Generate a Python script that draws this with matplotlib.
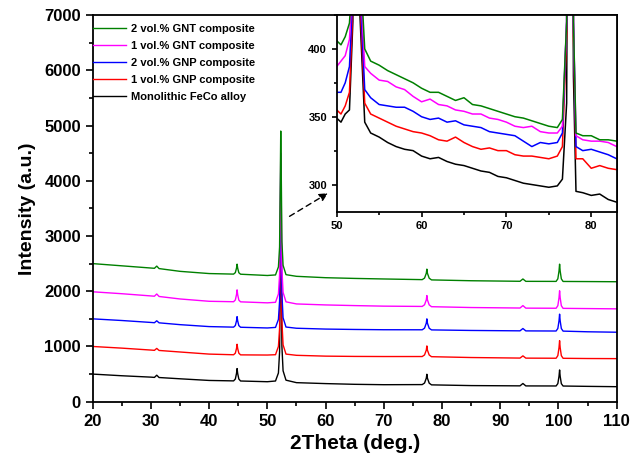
import matplotlib
matplotlib.use('Agg')
import matplotlib.pyplot as plt
from matplotlib.ticker import MultipleLocator

plt.rcParams['font.family'] = ['Liberation Sans', 'DejaVu Sans']
plt.rcParams['font.weight'] = 'bold'

LABELS = ['Monolithic FeCo alloy', '1 vol.% GNP composite', '2 vol.% GNP composite',
          '1 vol.% GNT composite', '2 vol.% GNT composite']
COLORS = ['black', '#ff0000', '#0000ff', '#ff00ff', '#008000']

# main pattern, stacked curves
two_theta = [20, 25, 30, 30.6, 31.0, 31.4, 35, 40,
             44.2, 44.5, 44.7, 44.8, 44.9, 45.1, 45.4, 50,
             51.4, 51.9, 52.1, 52.2, 52.3, 52.4, 52.5, 52.7, 53.2,
             55, 60, 65, 70,
             76.6, 77.0, 77.3, 77.4, 77.5, 77.8, 78.2, 85,
             93.4, 93.9, 94.4,
             99.6, 99.9, 100.1, 100.2, 100.3, 100.5, 100.8, 105, 110]
feco = [500, 470, 445, 440, 480, 438, 415, 385,
        377, 411, 512, 600, 512, 411, 375, 362,
        375, 520, 900, 2100, 3700, 2300, 1000, 560, 390,
        345, 328, 315, 308,
        310, 338, 425, 497, 425, 336, 305, 292,
        287, 330, 286,
        285, 328, 460, 575, 460, 327, 284, 278, 272]
gnp1 = [1000, 970, 935, 930, 965, 928, 900, 862,
        850, 879, 964, 1040, 964, 879, 848, 845,
        851, 1000, 1330, 2400, 4100, 2600, 1450, 1030, 862,
        840, 825, 820, 818,
        818, 847, 933, 1010, 933, 846, 815, 800,
        790, 830, 789,
        787, 835, 978, 1105, 978, 834, 786, 782, 780]
gnp2 = [1500, 1470, 1435, 1430, 1465, 1428, 1395, 1360,
        1350, 1379, 1464, 1540, 1464, 1378, 1348, 1335,
        1345, 1490, 1820, 2850, 4300, 3050, 1950, 1520, 1352,
        1330, 1315, 1308, 1303,
        1302, 1332, 1421, 1500, 1421, 1330, 1300, 1290,
        1283, 1325, 1282,
        1280, 1326, 1463, 1585, 1463, 1325, 1278, 1266, 1258]
gnt1 = [1990, 1955, 1915, 1910, 1950, 1905, 1860, 1818,
        1810, 1842, 1939, 2025, 1939, 1840, 1808, 1790,
        1800, 1950, 2300, 3300, 4500, 3500, 2400, 1980, 1808,
        1770, 1752, 1740, 1730,
        1725, 1755, 1843, 1922, 1843, 1753, 1720, 1705,
        1696, 1740, 1694,
        1692, 1739, 1882, 2008, 1882, 1738, 1690, 1686, 1681]
gnt2 = [2500, 2460, 2420, 2415, 2455, 2410, 2360, 2320,
        2310, 2337, 2418, 2490, 2418, 2335, 2308, 2285,
        2295, 2440, 2800, 3800, 4900, 4000, 2900, 2470, 2300,
        2270, 2245, 2232, 2222,
        2210, 2238, 2324, 2400, 2324, 2236, 2205, 2190,
        2180, 2222, 2179,
        2178, 2225, 2365, 2490, 2365, 2224, 2177, 2175, 2172]

# inset, raw intensities 50-83 deg
two_theta_zoom = [50, 50.5, 51, 51.5, 51.9, 52.3, 52.7, 53.3, 54, 55, 56, 57, 58, 59, 60,
                  61, 62, 63, 64, 65, 66, 67, 68, 69, 70, 71, 72, 73, 74, 75, 76,
                  76.6, 77.1, 77.5, 77.9, 78.2, 79, 80, 81, 82, 83]
feco_zoom = [349, 346, 352, 355, 420, 1000, 430, 346, 338, 335, 331, 328, 326, 325, 321,
             319, 320, 317, 315, 314, 312, 310, 309, 306, 305, 303, 301, 300, 299, 298, 299,
             304, 360, 1000, 380, 295, 294, 292, 293, 289, 287]
gnp1_zoom = [355, 352, 358, 368, 430, 1000, 440, 360, 352, 349, 346, 343, 341, 339, 338,
             336, 333, 332, 335, 331, 328, 326, 327, 325, 325, 322, 321, 321, 320, 319, 321,
             328, 410, 1000, 410, 319, 319, 312, 314, 312, 311]
gnp2_zoom = [368, 368, 375, 387, 440, 1000, 450, 370, 364, 359, 358, 357, 357, 354, 350,
             348, 349, 346, 347, 344, 343, 342, 339, 338, 337, 336, 332, 328, 331, 330, 331,
             338, 420, 1000, 420, 328, 325, 326, 324, 322, 319]
gnt1_zoom = [387, 391, 395, 407, 450, 1000, 460, 387, 382, 377, 376, 372, 370, 365, 361,
             363, 359, 358, 355, 354, 352, 352, 349, 348, 346, 343, 342, 343, 339, 338, 338,
             343, 420, 1000, 420, 336, 333, 332, 332, 331, 328]
gnt2_zoom = [406, 403, 409, 419, 460, 1000, 470, 400, 391, 388, 384, 381, 378, 375, 371,
             368, 368, 365, 362, 364, 359, 358, 356, 354, 352, 350, 349, 347, 345, 343, 342,
             348, 420, 1000, 420, 338, 336, 336, 333, 333, 332]

main_series = [feco, gnp1, gnp2, gnt1, gnt2]
zoom_series = [feco_zoom, gnp1_zoom, gnp2_zoom, gnt1_zoom, gnt2_zoom]


def style_axes(ax, size, major_len, minor_len):
    for s in ax.spines.values():
        s.set_linewidth(1.3)
    ax.tick_params(which='both', direction='out', top=False, right=False,
                   width=1.2, labelsize=size)
    ax.tick_params(which='major', length=major_len)
    ax.tick_params(which='minor', length=minor_len)
    for lab in ax.get_xticklabels() + ax.get_yticklabels():
        lab.set_fontweight('bold')


fig = plt.figure(figsize=(6.32, 4.61), dpi=100)
ax = fig.add_axes([0.1467, 0.1286, 0.829, 0.8388])

lines = []
for y, c, lab in zip(main_series, COLORS, LABELS):
    ln, = ax.plot(two_theta, y, color=c, lw=1.0, label=lab)
    lines.append(ln)

ax.set_xlim(20, 110)
ax.set_ylim(0, 7000)
ax.xaxis.set_major_locator(MultipleLocator(10))
ax.xaxis.set_minor_locator(MultipleLocator(5))
ax.yaxis.set_major_locator(MultipleLocator(1000))
ax.yaxis.set_minor_locator(MultipleLocator(500))
style_axes(ax, 12, 5, 3)
ax.set_xlabel('2Theta (deg.)', fontsize=15, fontweight='bold', labelpad=4)
ax.set_ylabel('Intensity (a.u.)', fontsize=14, fontweight='bold', labelpad=6)

ax.legend(lines[::-1], LABELS[::-1], loc='upper left', bbox_to_anchor=(0, 0.978),
          frameon=False, borderaxespad=0, borderpad=0, handlelength=3.0,
          handletextpad=0.45, labelspacing=0.63, prop={'size': 8, 'weight': 'bold'})

# dashed pointer towards the inset
ax.annotate('', xy=(60.8, 3800), xytext=(53.4, 3330),
            arrowprops=dict(arrowstyle='-|>', color='black', lw=1.0,
                            linestyle=(0, (4, 3)), mutation_scale=12))

ins = fig.add_axes([0.5328, 0.5408, 0.443, 0.4267])
for y, c in zip(zoom_series, COLORS):
    ins.plot(two_theta_zoom, y, color=c, lw=1.1)
ins.set_xlim(50, 83)
ins.set_ylim(280, 425)
ins.xaxis.set_major_locator(MultipleLocator(10))
ins.xaxis.set_minor_locator(MultipleLocator(5))
ins.yaxis.set_major_locator(MultipleLocator(50))
ins.yaxis.set_minor_locator(MultipleLocator(25))
style_axes(ins, 8, 3.5, 2)

fig.savefig('out.png', dpi=100)
